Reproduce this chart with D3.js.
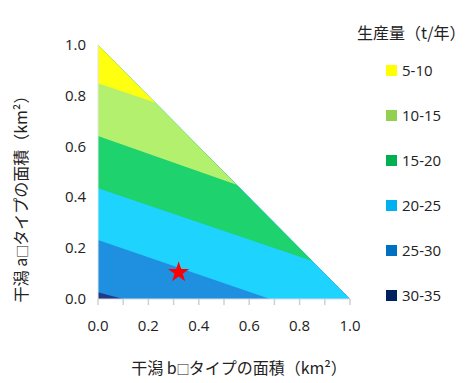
<!DOCTYPE html>
<html>
<head>
<meta charset="utf-8">
<script src="https://cdn.jsdelivr.net/npm/d3@7"></script>
<style>
  html, body { margin: 0; padding: 0; background: #fff; }
  svg text { font-family: "Noto Sans CJK JP", "Noto Sans", sans-serif; fill: #222; }
</style>
</head>
<body>
<svg id="chart" width="469" height="383"></svg>
<script>
// Production bands (t/year), top band first
const bandLabels = ["5-10", "10-15", "15-20", "20-25", "25-30", "30-35"];
const legendColors = ["#FFFF00", "#92D050", "#00B050", "#00B0F0", "#0070C0", "#002060"];
const fillColors = ["#FFFF10", "#B3F06E", "#1ED36E", "#1ED3FE", "#1F8FE0", "#1F3A86"];

// Contour boundaries (area a vs area b, km²), separating consecutive bands
const boundary10 = [[0, 0.849], [0.226, 0.774]];
const boundary15 = [[0, 0.642], [0.55, 0.45]];
const boundary20 = [[0, 0.436], [0.85, 0.15]];
const boundary25 = [[0, 0.232], [0.683, 0]];
const boundary30 = [[0, 0.027], [0.04, 0.016], [0.1, 0]];

// Current state marker
const current = [0.32, 0.105];

const xTicks = [0, 0.2, 0.4, 0.6, 0.8, 1.0];
const xMinorTicks = d3.range(0, 11).map(i => i / 10);
const yTicks = [0, 0.2, 0.4, 0.6, 0.8, 1.0];

const svg = d3.select("#chart");
const x = d3.scaleLinear().domain([0, 1]).range([98, 350]);
const y = d3.scaleLinear().domain([0, 1]).range([299, 45]);

const line = d3.line().x(d => x(d[0])).y(d => y(d[1]));

// Feasible region: a + b <= 1
const triangle = [[0, 0], [1, 0], [0, 1]];
svg.append("clipPath").attr("id", "tri")
  .append("path").attr("d", line(triangle) + "Z");

const g = svg.append("g").attr("clip-path", "url(#tri)");

// Lowest band fills the whole triangle, then each band above its boundary
g.append("path").attr("d", line(triangle) + "Z").attr("fill", fillColors[5]);
const boundaries = [boundary30, boundary25, boundary20, boundary15, boundary10];
boundaries.forEach((b, i) => {
  const poly = b.concat([[1.2, 0], [1.2, 1.2], [0, 1.2]]);
  g.append("path").attr("d", line(poly) + "Z").attr("fill", fillColors[4 - i]);
});

// Axes
svg.append("line").attr("x1", x(0)).attr("x2", x(1)).attr("y1", y(0)).attr("y2", y(0))
  .attr("stroke", "#d9d9d9").attr("stroke-width", 1);
svg.append("line").attr("x1", x(0)).attr("x2", x(0)).attr("y1", y(0)).attr("y2", y(1))
  .attr("stroke", "#e6e6e6").attr("stroke-width", 1);
svg.selectAll(".tick").data(xMinorTicks).enter().append("line")
  .attr("x1", d => x(d)).attr("x2", d => x(d)).attr("y1", y(0)).attr("y2", y(0) + 6)
  .attr("stroke", "#d0d0d0").attr("stroke-width", 1.5);

svg.selectAll(".xl").data(xTicks).enter().append("text")
  .attr("x", d => x(d)).attr("y", 331).attr("text-anchor", "middle")
  .attr("font-size", 15).style("font-family", "'Open Sans', 'Noto Sans', sans-serif")
  .text(d => d.toFixed(1));
svg.selectAll(".yl").data(yTicks).enter().append("text")
  .attr("x", 86).attr("y", d => y(d) + 5).attr("text-anchor", "end")
  .attr("font-size", 15).style("font-family", "'Open Sans', 'Noto Sans', sans-serif")
  .text(d => d.toFixed(1));

// Axis titles
const xt = svg.append("text").attr("x", 239).attr("y", 374).attr("text-anchor", "middle")
  .attr("font-size", 16);
xt.append("tspan").text("干潟 b");
xt.append("tspan").attr("font-size", 13).text("□");
xt.append("tspan").attr("dx", -1).text("タイプの面積（km²）");

const yt = svg.append("text").attr("transform", "translate(27,195) rotate(-90)")
  .attr("text-anchor", "middle").attr("font-size", 16);
yt.append("tspan").text("干潟 a");
yt.append("tspan").attr("font-size", 13).text("□");
yt.append("tspan").attr("dx", -1).text("タイプの面積（km²）");

// Marker
const star = d3.symbol().type(d3.symbolStar).size(140);
svg.append("path").attr("d", star())
  .attr("transform", `translate(${x(current[0])},${y(current[1])})`)
  .attr("fill", "#ff0000");

// Legend
svg.append("text").attr("x", 357).attr("y", 39).attr("font-size", 16).text("生産量（t/年）");
const lg = svg.selectAll(".lg").data(bandLabels).enter().append("g")
  .attr("transform", (d, i) => `translate(386,${65 + i * 45})`);
lg.append("rect").attr("width", 11).attr("height", 11).attr("fill", (d, i) => legendColors[i]);
lg.append("text").attr("x", 16).attr("y", 11).attr("font-size", 15)
  .style("font-family", "'Open Sans', 'Noto Sans', sans-serif").text(d => d);
</script>
</body>
</html>
